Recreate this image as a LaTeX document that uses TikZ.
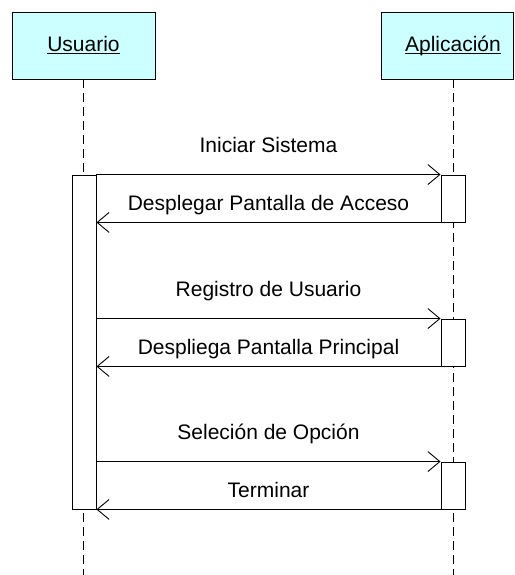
\documentclass[tikz,border=0pt]{standalone}
\usepackage{fontspec}
\setmainfont{Liberation Sans}
\usetikzlibrary{arrows.meta,calc}
\definecolor{objfill}{HTML}{CCFFFF}
\newcommand{\objname}[1]{\underline{\smash{#1}}\vphantom{U}}
\tikzset{
	obj/.style={draw=black, fill=objfill, line width=0.9pt, minimum width=143pt, minimum height=67pt, inner sep=0pt, font=\fontsize{21}{25}\selectfont},
	objtext/.style={minimum width=143pt, minimum height=67pt, inner sep=0pt, font=\fontsize{21}{25}\selectfont},
	bar/.style={draw=black, fill=white, line width=0.9pt, minimum width=24pt, inner sep=0pt},
	life/.style={line width=0.9pt, dash pattern=on 9pt off 5pt},
	msg/.style={line width=0.9pt, -{Straight Barb[length=12pt,width=20pt,line width=0.9pt]}},
	lbl/.style={font=\fontsize{21}{25}\selectfont, inner sep=0pt, text height=15pt, text depth=4.5pt}
}

\begin{document}
\begin{tikzpicture}[x=1pt, y=-1pt]
			%%%%% START %%%%%
			\useasboundingbox (0, 0) rectangle (514, 575);
			
			\node[obj] (usr) at (83.5, 45.5) {\objname{Usuario}};
			\draw[line width=0.9pt, fill=objfill] (381.5, 12) rectangle (513, 79);
			\node[objtext] (app) at (453, 45.5) {\objname{Aplicación}};
			
			\draw[life] (usr.south) -- (usr.south |- 0, 575);
			\draw[life] (app.south) -- (app.south |- 0, 575);
			
			\node[bar, minimum height=334pt] (ubar) at (84, 342) {};
			\node[bar, minimum height=47pt] (abar1) at (453, 198.5) {};
			\node[bar, minimum height=47pt] (abar2) at (453, 342.5) {};
			\node[bar, minimum height=47pt] (abar3) at (453, 485.5) {};
			
			\draw[msg] (ubar.east |- abar1.north) -- node[lbl, midway, yshift=27pt] {Iniciar Sistema} (abar1.north west);
			\draw[msg] (abar1.south west) -- node[lbl, midway, yshift=17.5pt] {Desplegar Pantalla de Acceso} (ubar.east |- abar1.south);
			
			\draw[msg] (ubar.east |- abar2.north) -- node[lbl, midway, yshift=27pt] {Registro de Usuario} (abar2.north west);
			\draw[msg] (abar2.south west) -- node[lbl, midway, yshift=17.5pt] {Despliega Pantalla Principal} (ubar.east |- abar2.south);
			
			\draw[msg] (ubar.east |- abar3.north) -- node[lbl, midway, yshift=27pt] {Seleción de Opción} (abar3.north west);
			\draw[msg] (abar3.south west) -- node[lbl, midway, yshift=17.5pt] {Terminar} (ubar.east |- abar3.south);
			
			%%%%% END %%%%%
\end{tikzpicture}
\end{document}
